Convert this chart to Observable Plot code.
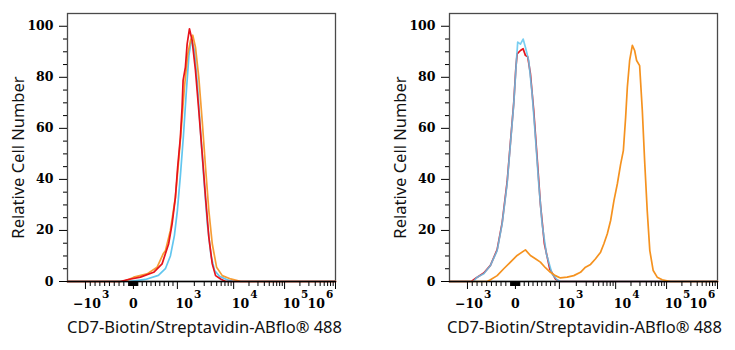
<!DOCTYPE html>
<html><head><meta charset="utf-8">
<script src="https://cdn.jsdelivr.net/npm/d3@7"></script>
<script src="https://cdn.jsdelivr.net/npm/@observablehq/plot@0.6"></script>
<style>
body{margin:0;background:#fff;}
#wrap{display:flex;width:735px;height:350px;}
</style></head><body><div id="wrap"></div>
<script>
// ---------- data (x = fluorescence intensity, y = relative cell number) ----------
const leftRedX = [-1e4,-271,-131,159,461,652,802,880,955,1012,1131,1213,1264,1389,1490,1638,1830,2096,2401,2761,3162,3622,4165,4770,5860,7200,1e6];
const leftRedY = [0,0,0.7,1.7,3.6,6.9,14.8,22.6,33,44.8,56.5,68.3,78.8,84,93,99,94.4,82.7,67,50,33,17.4,6.9,2.3,1,0,0];

const leftOrangeX = [-1e4,-208,-104,7,311,539,682,727,841,955,1055,1179,1334,1527,1707,1876,2096,2401,2761,3162,3622,4165,4970,6280,8840,11820,13720,1e6];
const leftOrangeY = [0,0,0.8,1.7,3,5.6,11,12,20,33,47.4,60.5,76,89,94.4,96.5,91.8,80,63,44.8,27.8,14.8,5.6,2.3,1,0.4,0,0];

const leftBlueX = [-1e4,-104,273,568,727,841,932,1000,1131,1280,1448,1605,1778,2012,2276,2575,2973,3430,3966,4580,5620,7500,9600,1e6];
const leftBlueY = [0,0,0.8,2.4,5,10,18,27.8,41.5,57,75,88.6,95,90.5,76.8,59,39.6,22,10,4.3,2,0.8,0,0];

const rightRedX = [-1e4,-917,-812,-660,-521,-381,-277,-173,-104,-35,11,39,114,175,227,280,341,416,493,568,659,780,909,1012,1e6];
const rightRedY = [0,0,1.5,3.3,6.3,12.5,23,39,54.5,70,84,89.2,90.5,91.2,88.6,88,81.4,67,48.7,30.4,14.8,5,1,0,0];

const rightBlueX = [-1e4,-875,-798,-660,-521,-381,-277,-173,-104,-35,23,52,114,175,227,302,380,455,530,607,705,834,948,1042,1e6];
const rightBlueY = [0,0,1.7,3,6.3,12.1,22.6,38.3,54,69.6,86.6,93.8,93,95,91.8,86.6,73.5,56.5,38.3,22.6,10.8,3,0.7,0,0];

const rightOrangeX = [-1e4,-590,-521,-381,-244,-104,39,227,341,455,568,682,796,909,1042,1373,1800,2371,2912,3578,4394,5400,6180,7110,8140,9320,10800,12530,14160,15710,16960,18820,21260,23580,25800,29550,33380,37040,41650,46850,54600,65400,82000,119800,1e6];
const rightOrangeY = [0,0,0.7,2.3,5,7.6,10.2,12.4,10.2,8.9,7.6,5.4,3.6,2.3,1.4,1.7,2.3,3.6,5.6,6.7,8.9,11.5,14.8,18.7,23.9,31.7,38.3,46,51.3,64.4,76.1,86.6,92.5,90.5,86.6,84.6,67,47.4,27.8,12.1,4.3,1.7,0.7,0,0];

// ---------- axes ----------
const xMajor = [-1e3, 0, 1e3, 1e4, 1e5, 1e6];
const xLabelBase = ["\u221210", "0", "10", "10", "10", "10"];
const xLabelExp = ["3", "", "3", "4", "5", "6"];
const xLinearMinor = [10,20,30,40,50,60,70,80,90,100,200,300,400,500,600,700,800,900];
const xDecadeMinor = [2,3,4,5,6,7,8,9];
const yMajor = [0,20,40,60,80,100];
const yMinor = [5,10,15,25,30,35,45,50,55,65,70,75,85,90,95];
const xTitle = "CD7-Biotin/Streptavidin-ABflo\u00ae 488";
const yTitle = "Relative Cell Number";

// logicle-like display: linear in [-10^3, 10^3], logarithmic outside
const displayStops = [-2, -1, 0, 1, 2, 3, 4];
const displayFrac = [0, 0.067, 0.246, 0.41, 0.62, 0.81, 1];
const layout = d3.scaleLinear().domain(displayStops).range(displayFrac);
function disp(v) { const a = Math.abs(v); return a <= 1000 ? v / 1000 : Math.sign(v) * (1 + Math.log10(a / 1000)); }
const X = v => layout(disp(v));

const xMinor = [...xLinearMinor, ...xLinearMinor.map(v => -v), ...[1e3, 1e4, 1e5].flatMap(p => xDecadeMinor.map(m => m * p))];

const RED = "#e8131b", BLUE = "#62c6ef", ORANGE = "#f5921f";
const serif = {fontFamily: "DejaVu Serif", fontWeight: "bold", fontSize: 12.5, fill: "#000", lineAnchor: "middle"};
const sans = {fontFamily: "Noto Sans", fontSize: 16.5, fill: "#111", lineAnchor: "middle", textAnchor: "middle"};

const labels = xMajor.map((v, i) => ({v, base: xLabelBase[i], exp: xLabelExp[i]}));
const zeroLab = labels.filter(d => d.exp === "");
const innerLab = labels.filter(d => d.exp !== "" && d.v !== xMajor[xMajor.length - 1]);
const endLab = labels.filter(d => d.v === xMajor[xMajor.length - 1]);

function series(xs, ys, color, opacity = 1) {
  return Plot.line(xs.map((x, i) => ({x, y: ys[i]})),
    {x: d => X(d.x), y: "y", stroke: color, strokeWidth: 1.7, strokeOpacity: opacity});
}

function panel({width, marginLeft, marginRight, lines, titleDx}) {
  return Plot.plot({
    width, height: 350, marginLeft, marginRight, marginTop: 13, marginBottom: 69,
    style: {background: "#fff", color: "#000"},
    x: {type: "linear", domain: [0, 1], axis: null},
    y: {domain: [0, 105], axis: null},
    marks: [
      Plot.frame({stroke: "#4a4a4a", strokeWidth: 1.3}),
      ...lines,
      Plot.ruleY([0], {stroke: "#000", strokeWidth: 1.3}),
      Plot.axisY({ticks: yMajor, tickSize: 8, tickPadding: 6, label: null, ...serif, textAnchor: "end"}),
      Plot.axisY({ticks: yMinor, tickSize: 4, tickFormat: () => "", label: null}),
      Plot.axisX({ticks: xMajor.map(X), tickSize: 8, tickFormat: () => "", label: null}),
      Plot.axisX({ticks: xMinor.map(X), tickSize: 5, tickFormat: () => "", label: null}),
      Plot.text(zeroLab, {x: d => X(d.v), text: "base", frameAnchor: "bottom", dy: 22, ...serif, textAnchor: "middle"}),
      Plot.text(innerLab, {x: d => X(d.v), text: "base", frameAnchor: "bottom", dx: 15.5, dy: 22, ...serif, textAnchor: "end"}),
      Plot.text(innerLab, {x: d => X(d.v), text: "exp", frameAnchor: "bottom", dx: 16.5, dy: 13, ...serif, textAnchor: "start", fontSize: 10.5}),
      Plot.text(endLab, {x: d => X(d.v), text: "base", frameAnchor: "bottom", dx: -10.5, dy: 22, ...serif, textAnchor: "end"}),
      Plot.text(endLab, {x: d => X(d.v), text: "exp", frameAnchor: "bottom", dx: -9.5, dy: 13, ...serif, textAnchor: "start", fontSize: 10.5}),
      Plot.text([xTitle], {frameAnchor: "bottom", dx: titleDx, dy: 46, ...sans}),
      Plot.text([yTitle], {frameAnchor: "left", rotate: -90, dx: -49, dy: 10, ...sans})
    ]
  });
}

const wrap = document.getElementById("wrap");
wrap.append(panel({
  width: 368, marginLeft: 67, marginRight: 33, titleDx: 3,
  lines: [series(leftBlueX, leftBlueY, BLUE), series(leftOrangeX, leftOrangeY, ORANGE, 0.9), series(leftRedX, leftRedY, RED)]
}));
wrap.append(panel({
  width: 367, marginLeft: 81, marginRight: 18, titleDx: 1,
  lines: [series(rightRedX, rightRedY, RED), series(rightBlueX, rightBlueY, BLUE, 0.85), series(rightOrangeX, rightOrangeY, ORANGE)]
}));
</script></body></html>
